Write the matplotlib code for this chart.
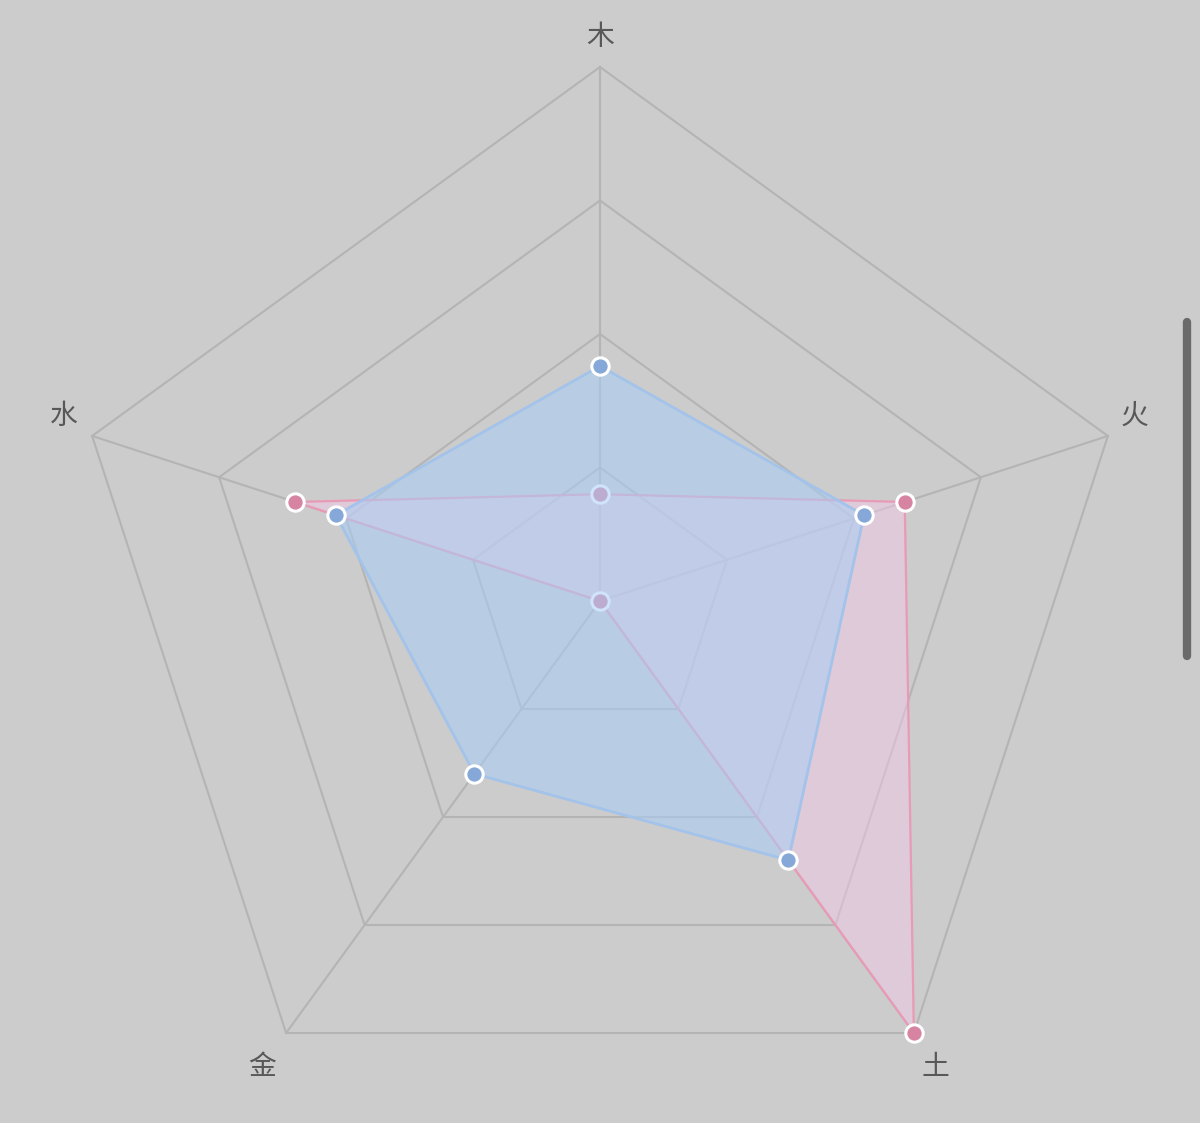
import numpy as np
import matplotlib
matplotlib.use("Agg")
import matplotlib.pyplot as plt
from matplotlib.lines import Line2D

plt.rcParams['font.family'] = ['Noto Sans CJK SC', 'DejaVu Sans']

categories = ['木', '火', '土', '金', '水']
series_pink = [1.0, 3.0, 5.0, 0.0, 3.0]
series_blue = [2.2, 2.6, 3.0, 2.0, 2.6]
max_value = 5.0
ring_levels = [1.25, 2.5, 3.75, 5.0]

W, H = 1200, 1123
cx, cy = 600, 601
R = 534
scale = R / max_value

fig = plt.figure(figsize=(W / 100, H / 100), dpi=100)
fig.patch.set_facecolor('#cccccc')
ax = fig.add_axes([0, 0, 1, 1])
ax.set_facecolor('#cccccc')
ax.set_xlim(-cx / scale, (W - cx) / scale)
ax.set_ylim(-(H - cy) / scale, cy / scale)
ax.set_aspect('equal')
ax.axis('off')

n = len(categories)
angles = np.deg2rad(90 - 72 * np.arange(n))

def xy(vals):
    v = np.asarray(vals, dtype=float)
    return v * np.cos(angles), v * np.sin(angles)

grid_color = '#b4b4b4'
for lv in ring_levels:
    gx, gy = xy([lv] * n)
    ax.plot(np.append(gx, gx[0]), np.append(gy, gy[0]), color=grid_color, lw=1.5, zorder=1)
for a in angles:
    ax.plot([0, max_value * np.cos(a)], [0, max_value * np.sin(a)], color=grid_color, lw=1.5, zorder=1)

# pink series
px, py = xy(series_pink)
ax.fill(px, py, color='#f5c9e8', alpha=0.45, lw=0, zorder=2)
ax.plot(np.append(px, px[0]), np.append(py, py[0]), color='#e89ab6', lw=1.6, zorder=3)
ax.plot(px, py, 'o', ms=12.5, mfc='#d684a2', mec='white', mew=2.2, zorder=4)

# blue series
bx, by = xy(series_blue)
ax.fill(bx, by, color='#a8cef6', alpha=0.55, lw=0, zorder=5)
ax.plot(np.append(bx, bx[0]), np.append(by, by[0]), color='#a3c3ea', lw=2.0, zorder=6)
ax.plot(bx, by, 'o', ms=12.5, mfc='#86a8d8', mec='white', mew=2.2, zorder=7)

# axis name labels, offset in pixels from each outer vertex
label_offsets = [(0, 30), (27, 20), (22, -34), (-24, -34), (-28, 20)]
for lab, a, (dx, dy) in zip(categories, angles, label_offsets):
    ax.annotate(lab, (max_value * np.cos(a), max_value * np.sin(a)),
                xytext=(dx, dy), textcoords='offset pixels', fontsize=20,
                color='#585858', ha='center', va='center', zorder=8)

# scrollbar artifact
fig.add_artist(Line2D([1187 / W, 1187 / W], [1 - 322 / H, 1 - 656 / H],
                      transform=fig.transFigure, color='#6a6a6a', lw=6,
                      solid_capstyle='round'))

fig.savefig('out.png', dpi=100, facecolor=fig.get_facecolor())
